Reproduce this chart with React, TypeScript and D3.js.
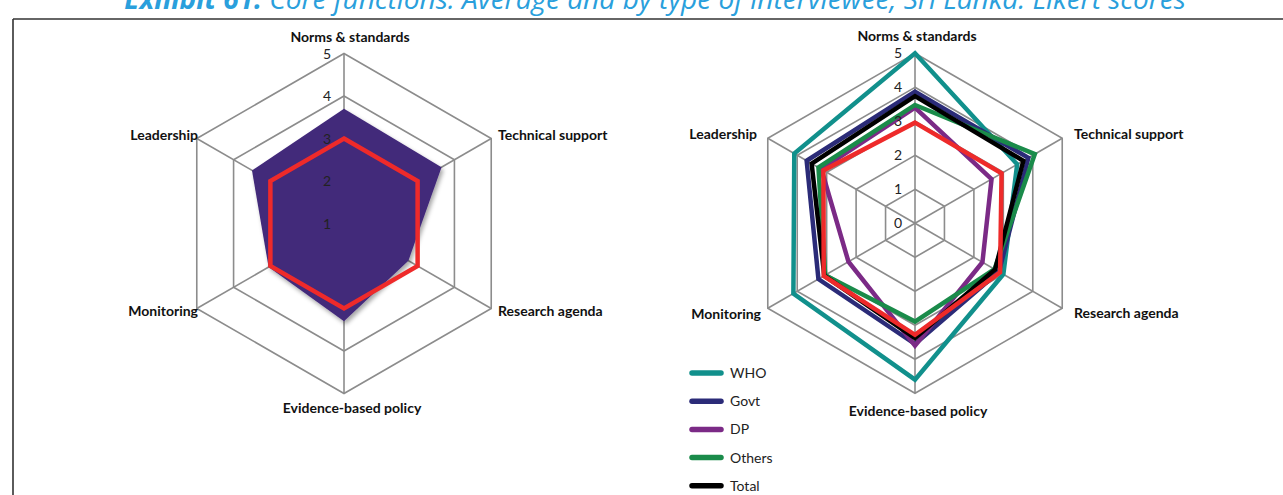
import React from "react";
import * as d3 from "d3";

// axes, clockwise from the top
const categories = [
  "Norms & standards",
  "Technical support",
  "Research agenda",
  "Evidence-based policy",
  "Monitoring",
  "Leadership",
];

// left chart (scale 1..5)
const leftTicks = [1, 2, 3, 4, 5];
const leftAverage = [3.7, 3.65, 2.75, 3.3, 3.05, 3.5];
const leftSriLanka = [3, 3, 3, 3, 3, 3];

// right chart (scale 0..5)
const rightTicks = [0, 1, 2, 3, 4, 5];
const who = [5.0, 3.47, 3.0, 4.6, 4.13, 4.1];
const govt = [3.87, 3.85, 2.85, 3.55, 3.28, 3.68];
const dp = [3.4, 2.6, 2.29, 3.6, 2.26, 3.18];
const others = [3.48, 4.07, 2.7, 2.89, 3.05, 3.28];
const total = [3.74, 3.68, 2.72, 3.38, 3.08, 3.51];
const sriLanka = [2.96, 2.94, 2.89, 3.28, 3.1, 3.11];

const rightSeries = [
  { name: "WHO", values: who, color: "#11908c" },
  { name: "Govt", values: govt, color: "#2b2b78" },
  { name: "DP", values: dp, color: "#7b2a86" },
  { name: "Others", values: others, color: "#1a8b4a" },
  { name: "Total", values: total, color: "#000000" },
];

const RED = "#ee2a2a";
const GRID = "#8c8c8c";
const FONT = "Lato, 'Open Sans', sans-serif";

const angle = (i) => (i * Math.PI * 2) / categories.length;

function Radar({ cx, cy, domain, ticks, labelPos, children }) {
  const r = d3.scaleLinear().domain(domain).range([0, 170]);
  const ring = d3
    .lineRadial()
    .angle((d, i) => angle(i))
    .radius((d) => r(d))
    .curve(d3.curveLinearClosed);

  const rings = ticks.filter((t) => t > domain[0]);

  return (
    <g transform={`translate(${cx},${cy})`}>
      {rings.map((t) => (
        <path key={t} d={ring(categories.map(() => t))} fill="none" stroke={GRID} strokeWidth={1.6} />
      ))}
      {categories.map((c, i) => (
        <line
          key={c}
          x1={0}
          y1={0}
          x2={Math.sin(angle(i)) * r(domain[1])}
          y2={-Math.cos(angle(i)) * r(domain[1])}
          stroke={GRID}
          strokeWidth={1.6}
        />
      ))}
      {children(r, ring)}
      {ticks.map((t) => (
        <text
          key={t}
          x={-13}
          y={-r(t) + 5}
          textAnchor="end"
          fontSize={14}
          fontFamily={FONT}
          fill="#222"
        >
          {t}
        </text>
      ))}
      {categories.map((c, i) => (
        <text
          key={c}
          x={labelPos[i][0]}
          y={labelPos[i][1]}
          textAnchor={labelPos[i][2]}
          fontSize={14}
          fontWeight="bold"
          fontFamily={FONT}
          fill="#111"
        >
          {c}
        </text>
      ))}
    </g>
  );
}

export default function App() {
  return (
    <svg
      width={1283}
      height={495}
      style={{ position: "absolute", left: 0, top: 0, background: "#fff" }}
    >
      <defs>
        <filter id="shadow" x="-20%" y="-20%" width="140%" height="140%">
          <feDropShadow dx={2} dy={3} stdDeviation={2} floodColor="#000" floodOpacity={0.35} />
        </filter>
      </defs>

      <text x={655} y={9} textAnchor="middle" fontSize={28} fontStyle="italic" fontFamily="'Open Sans', sans-serif" fill="#2a9fdc">
        <tspan fontWeight="bold">Exhibit 61:</tspan> Core functions: Average and by type of interviewee, Sri Lanka: Likert scores
      </text>
      <line x1={13} y1={19} x2={1283} y2={19} stroke="#333" strokeWidth={1.6} />
      <line x1={13} y1={19} x2={13} y2={495} stroke="#333" strokeWidth={1.6} />

      <Radar
        cx={344}
        cy={223.5}
        domain={[1, 5]}
        ticks={leftTicks}
        labelPos={[
          [6, -182, "middle"],
          [154, -84, "start"],
          [154, 92, "start"],
          [8, 189, "middle"],
          [-146, 92, "end"],
          [-146, -84, "end"],
        ]}
      >
        {(r, ring) => (
          <g>
            <path d={ring(leftAverage)} fill="#42297a" filter="url(#shadow)" />
            <path d={ring(leftSriLanka)} fill="none" stroke={RED} strokeWidth={4.5} strokeLinejoin="miter" />
          </g>
        )}
      </Radar>

      <Radar
        cx={915}
        cy={223.3}
        domain={[0, 5]}
        ticks={rightTicks}
        labelPos={[
          [2, -182, "middle"],
          [159, -84, "start"],
          [159, 95, "start"],
          [3, 193, "middle"],
          [-154, 96, "end"],
          [-158, -84, "end"],
        ]}
      >
        {(r, ring) => (
          <g>
            {rightSeries.map((s) => (
              <path key={s.name} d={ring(s.values)} fill="none" stroke={s.color} strokeWidth={4.5} />
            ))}
            <path d={ring(sriLanka)} fill="none" stroke={RED} strokeWidth={4.5} />
          </g>
        )}
      </Radar>

      {rightSeries.map((s, i) => (
        <g key={s.name} transform={`translate(690,${373 + i * 28.2})`}>
          <line x1={2} y1={0} x2={31} y2={0} stroke={s.color} strokeWidth={5.5} strokeLinecap="round" />
          <text x={40} y={5} fontSize={14} fontFamily={FONT} fill="#222">
            {s.name}
          </text>
        </g>
      ))}
    </svg>
  );
}
